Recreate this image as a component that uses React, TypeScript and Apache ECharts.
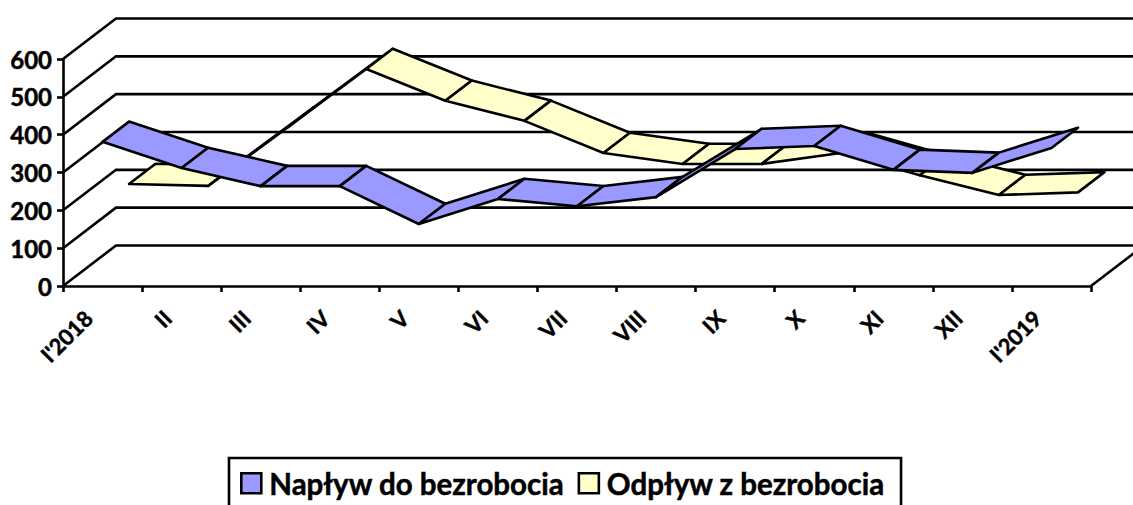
import React, { useEffect, useRef } from "react";
import * as echarts from "echarts";

const categories = ["I'2018", "II", "III", "IV", "V", "VI", "VII", "VIII", "IX", "X", "XI", "XII", "I'2019"];
const inflow = [381, 312, 264, 264, 164, 230, 211, 235, 362, 370, 307, 299, 365];
const outflow = [216, 211, 365, 520, 436, 383, 298, 269, 269, 298, 239, 187, 194];
const yTicks = [0, 100, 200, 300, 400, 500, 600];
const inflowName = "Napływ do bezrobocia";
const outflowName = "Odpływ z bezrobocia";
const FONT = "Lato";
const DEPTH_X = 53;
const DEPTH_Y = 40.5;
const LINE = 2.6;
const heavy = { textBorderColor: "#000", textBorderWidth: 0.5 };

function ribbon(values: number[], fill: string, depthFrom: number, depthTo: number) {
  return (params: any, api: any) => {
    const i = params.dataIndex;
    if (i >= values.length - 1) return null;
    const a = api.coord([i, values[i]]);
    const b = api.coord([i + 1, values[i + 1]]);
    const pt = (p: number[], d: number) => [p[0] + DEPTH_X * d, p[1] - DEPTH_Y * d];
    return {
      type: "polygon",
      shape: { points: [pt(a, depthFrom), pt(b, depthFrom), pt(b, depthTo), pt(a, depthTo)] },
      style: { fill, stroke: "#000", lineWidth: LINE, lineJoin: "round" },
    };
  };
}

function wall(params: any, api: any) {
  const v = yTicks[params.dataIndex];
  const half = api.size([1, 0])[0] / 2;
  const left = api.coord([0, v]);
  const right = api.coord([categories.length - 1, v]);
  const x0 = left[0] - half;
  const x1 = right[0] + half;
  const y = left[1];
  const children: any[] = [
    {
      type: "polyline",
      shape: { points: [[x0, y], [x0 + DEPTH_X, y - DEPTH_Y], [x1 + DEPTH_X, y - DEPTH_Y]] },
      style: { fill: "none", stroke: "#000", lineWidth: LINE },
    },
  ];
  if (v === 0) {
    children.push({
      type: "line",
      shape: { x1, y1: y, x2: x1 + DEPTH_X, y2: y - DEPTH_Y },
      style: { stroke: "#000", lineWidth: LINE },
    });
  }
  return { type: "group", children };
}

export default function App() {
  const ref = useRef<HTMLDivElement>(null);
  useEffect(() => {
    const chart = echarts.init(ref.current!, null, { renderer: "svg" });
    chart.setOption({
      animation: false,
      backgroundColor: "#fff",
      grid: { left: 63, top: 59, width: 1028, height: 227 },
      legend: {
        left: 229,
        top: 458,
        data: [inflowName, outflowName],
        icon: "rect",
        itemWidth: 20,
        itemHeight: 20,
        itemGap: 13,
        padding: [10, 16, 30, 11],
        borderColor: "#000",
        borderWidth: 2.6,
        backgroundColor: "#fff",
        selectedMode: false,
        textStyle: { fontFamily: FONT, fontWeight: "bold", fontSize: 29.5, color: "#000", padding: [0, 0, 0, 3], ...heavy },
        itemStyle: { borderColor: "#000", borderWidth: 2.6 },
      },
      xAxis: {
        type: "category",
        data: categories,
        boundaryGap: true,
        axisLine: { lineStyle: { color: "#000", width: LINE } },
        axisTick: { show: true, interval: 0, alignWithLabel: false, length: 6, lineStyle: { color: "#000", width: LINE } },
        axisLabel: {
          interval: 0,
          rotate: 45,
          margin: 14,
          padding: [0, 20, 0, 0],
          fontFamily: FONT,
          fontWeight: "bold",
          fontSize: 22,
          color: "#000",
          ...heavy,
        },
        splitLine: { show: false },
      },
      yAxis: {
        type: "value",
        min: 0,
        max: 600,
        interval: 100,
        axisLine: { show: true, lineStyle: { color: "#000", width: LINE } },
        axisTick: { show: true, length: 6, lineStyle: { color: "#000", width: LINE } },
        axisLabel: { margin: 11, fontFamily: FONT, fontWeight: "bold", fontSize: 24, color: "#000", ...heavy },
        splitLine: { show: false },
      },
      series: [
        {
          name: "walls",
          type: "custom",
          coordinateSystem: "cartesian2d",
          renderItem: wall,
          data: yTicks.map((v) => [0, v]),
          encode: { x: 0, y: 1 },
          silent: true,
          z: 1,
        },
        {
          name: outflowName,
          type: "custom",
          coordinateSystem: "cartesian2d",
          renderItem: ribbon(outflow, "#FFFFCC", 0.5, 1),
          data: outflow.map((v, i) => [i, v]),
          encode: { x: 0, y: 1 },
          itemStyle: { color: "#FFFFCC", borderColor: "#000", borderWidth: 2 },
          z: 2,
        },
        {
          name: inflowName,
          type: "custom",
          coordinateSystem: "cartesian2d",
          renderItem: ribbon(inflow, "#9999FF", 0, 0.5),
          data: inflow.map((v, i) => [i, v]),
          encode: { x: 0, y: 1 },
          itemStyle: { color: "#9999FF", borderColor: "#000", borderWidth: 2 },
          z: 3,
        },
      ],
    });
    return () => chart.dispose();
  }, []);
  return <div ref={ref} style={{ position: "fixed", left: 0, top: 0, width: 1133, height: 505 }} />;
}
